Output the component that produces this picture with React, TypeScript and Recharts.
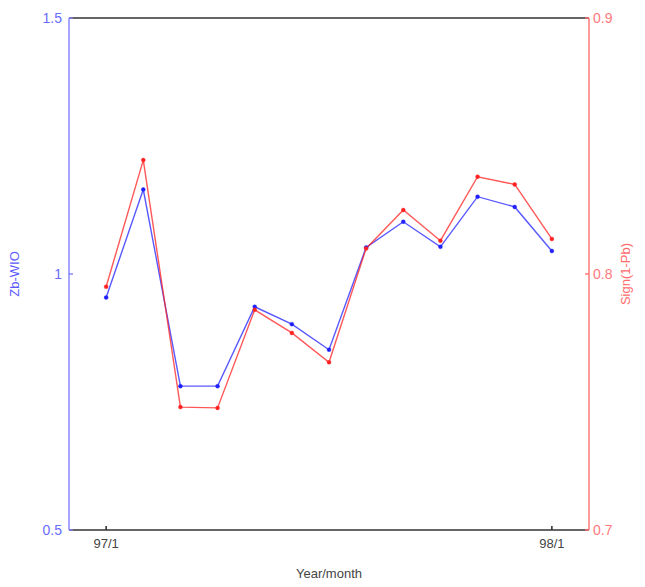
import { LineChart, Line, XAxis, YAxis, ReferenceLine } from 'recharts';

// months from 97/1 to 98/1
const months = ['97/1', '97/2', '97/3', '97/4', '97/5', '97/6', '97/7', '97/8', '97/9', '97/10', '97/11', '97/12', '98/1'];
const zbWio = [0.954, 1.165, 0.781, 0.781, 0.936, 0.902, 0.852, 1.052, 1.102, 1.053, 1.151, 1.131, 1.045];
const signPb = [0.795, 0.8445, 0.748, 0.7477, 0.786, 0.777, 0.7655, 0.81, 0.825, 0.813, 0.838, 0.835, 0.8137];
const xTickLabels = ['97/1', '98/1'];
const leftTicks = [0.5, 1, 1.5];
const rightTicks = [0.7, 0.8, 0.9];

const data = months.map((m, i) => ({ idx: i, month: m, zb: zbWio[i], sign: signPb[i] }));
const xTicks = xTickLabels.map((l) => months.indexOf(l));

const FONT = '"Liberation Sans", Arial, sans-serif';
const BLUE = '#2020ff';
const RED = '#ff2020';

export default function App() {
  return (
    <div style={{ position: 'absolute', left: 0, top: 0, background: '#fff', fontFamily: FONT }}>
      <LineChart width={645} height={587} data={data} margin={{ top: 18, right: 0, bottom: 0, left: 0 }}>
        <XAxis
          xAxisId="bottom"
          dataKey="idx"
          type="number"
          domain={[-1, 13]}
          ticks={xTicks}
          tickFormatter={(v) => months[v]}
          height={57}
          stroke="#333"
          strokeWidth={1.6}
          tickSize={-4}
          tickMargin={13}
          tick={{ fill: '#444', fontSize: 13, fontFamily: FONT }}
          label={{ value: 'Year/month', position: 'insideBottom', offset: 9, fill: '#444', fontSize: 13, fontFamily: FONT }}
        />
        <YAxis
          yAxisId="left"
          domain={[0.5, 1.5]}
          ticks={leftTicks}
          width={69}
          stroke="#8080ff"
          strokeWidth={1.4}
          tickSize={-4}
          tickMargin={11}
          tickFormatter={(v) => String(v)}
          tick={{ fill: '#6a6aff', fontSize: 14, fontFamily: FONT }}
          label={{ value: 'Zb-WIO', angle: -90, position: 'insideLeft', offset: 14, fill: '#5a5aff', fontSize: 13, fontFamily: FONT, style: { textAnchor: 'middle' } }}
        />
        <YAxis
          yAxisId="right"
          orientation="right"
          domain={[0.7, 0.9]}
          ticks={rightTicks}
          width={56}
          stroke="#ff7070"
          strokeWidth={1.4}
          tickSize={-4}
          tickMargin={8}
          tickFormatter={(v) => String(v)}
          tick={{ fill: '#ff7a7a', fontSize: 14, fontFamily: FONT }}
          label={{ value: 'Sign(1-Pb)', angle: -90, position: 'insideRight', offset: 20, fill: '#ff6a6a', fontSize: 13, fontFamily: FONT, style: { textAnchor: 'middle' } }}
        />
        <ReferenceLine xAxisId="bottom" yAxisId="left" y={1.5} stroke="#333" strokeWidth={1.6} />
        <Line
          xAxisId="bottom"
          yAxisId="left"
          dataKey="zb"
          stroke={BLUE}
          strokeWidth={1.4}
          strokeOpacity={0.75}
          dot={{ r: 2, fill: BLUE, stroke: BLUE, strokeWidth: 0.5 }}
          isAnimationActive={false}
        />
        <Line
          xAxisId="bottom"
          yAxisId="right"
          dataKey="sign"
          stroke={RED}
          strokeWidth={1.4}
          strokeOpacity={0.75}
          dot={{ r: 2, fill: RED, stroke: RED, strokeWidth: 0.5 }}
          isAnimationActive={false}
        />
      </LineChart>
    </div>
  );
}
